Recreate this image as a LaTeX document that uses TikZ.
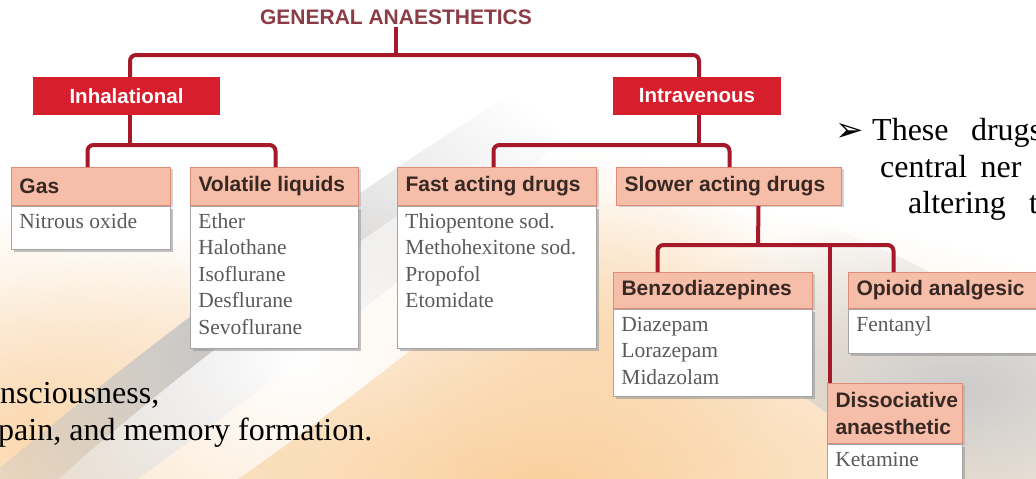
\documentclass[tikz,border=0pt]{standalone}
\usepackage{fontspec}
\setmainfont{Liberation Serif}
\newfontfamily\hdrfam{Liberation Sans}
\newfontfamily\drugfam{Liberation Serif}
\newfontfamily\symfam{DejaVu Sans}
\usetikzlibrary{shadows,fadings,calc}

\definecolor{redfill}{RGB}{215,30,45}
\definecolor{conncol}{RGB}{165,25,40}
\definecolor{hdrfill}{RGB}{246,190,168}
\definecolor{hdrborder}{RGB}{222,140,120}
\definecolor{hdrtext}{RGB}{55,40,35}
\definecolor{bodytext}{RGB}{90,90,90}
\definecolor{bodyborder}{RGB}{165,165,165}
\definecolor{titlecol}{RGB}{140,60,68}
\definecolor{peach}{RGB}{250,208,158}

\tikzfading[name=softglow, inner color=transparent!0, outer color=transparent!100]

\newcommand\hfnt{\hdrfam\bfseries\fontsize{21}{27}\selectfont}
\newcommand\bfnt{\drugfam\fontsize{21.5}{26.5}\selectfont}
\newcommand\sfnt{\fontsize{32}{36}\selectfont}

\tikzset{
  conn/.style={draw=conncol, line width=4pt, rounded corners=6pt},
  redbox/.style={fill=redfill, text=white, font=\hdrfam\bfseries\fontsize{20.5}{24}\selectfont,
    minimum height=38pt, inner sep=0pt},
  hdr/.style={draw=hdrborder, fill=hdrfill, line width=1pt, inner xsep=8pt, inner ysep=0pt,
    anchor=north west, font=\hfnt, text=hdrtext,
    drop shadow={shadow xshift=2pt, shadow yshift=-1pt, fill=gray!70, opacity=.5}},
  bodyb/.style={draw=bodyborder, fill=white, line width=.8pt, inner xsep=8pt, inner ysep=6pt,
    anchor=north west, font=\bfnt, text=bodytext,
    drop shadow={shadow xshift=2.5pt, shadow yshift=-2.5pt, fill=gray!80, opacity=.6}},
  slide/.style={font=\sfnt, text=black, inner sep=0pt, anchor=base west},
  glow/.style={path fading=softglow}
}

% #1 name, #2 x, #3 y, #4 width, #5 header height, #6 header text, #7 body height, #8 body text
\newcommand\drugbox[8]{%
  \node[hdr, minimum width=#4pt, minimum height=#5pt] (#1H) at (#2,#3)
    {\parbox{\dimexpr#4pt-16pt\relax}{\raggedright #6}};
  \node[bodyb] (#1B) at (#1H.south west)
    {\parbox[t][\dimexpr#7pt-12pt\relax][t]{\dimexpr#4pt-16pt\relax}{\raggedright\rule{0pt}{16pt}#8}};
}

\begin{document}
\begin{tikzpicture}[x=1pt,y=-1pt]
\useasboundingbox (0,0) rectangle (1036,479);
\clip (0,0) rectangle (1036,479);
\fill[white] (0,0) rectangle (1036,479);

% soft slide background
\fill[peach, glow] (540,480) ellipse [x radius=760, y radius=280];
\fill[peach, glow, fill opacity=.7] (20,430) ellipse [x radius=300, y radius=220];
\fill[peach, glow, fill opacity=.6] (590,330) ellipse [x radius=200, y radius=180];
\fill[gray!45, glow, rotate around={37:(230,350)}]
  (230,350) ellipse [x radius=520, y radius=50];
\fill[white, glow, rotate around={37:(300,360)}]
  (300,360) ellipse [x radius=480, y radius=60];
\fill[gray!40, glow, rotate around={-30:(960,390)}]
  (960,390) ellipse [x radius=360, y radius=90];

% title and top level
\node[font=\hdrfam\bfseries\fontsize{21}{24}\selectfont, text=titlecol, inner sep=2pt] (title) at (396,17) {GENERAL ANAESTHETICS};
\node[redbox, minimum width=187pt] (inh) at (126.5,96) {Inhalational};
\node[redbox, minimum width=168pt] (intra) at (697,96) {Intravenous};

\coordinate (j0) at (396,55);
\coordinate (j1) at (130,145);
\coordinate (j2) at (699,145);
\coordinate (j3) at (758,245);

% upper connectors
\draw[conn] (title.south) -- (j0);
\draw[conn] ([xshift=3.5pt]inh.north) |- (j0) -| ([xshift=2pt]intra.north);
\draw[conn] ([xshift=3.5pt]inh.south) -- (j1);
\draw[conn] ([xshift=2pt]intra.south) -- (j2);

% boxes
\drugbox{gas}{11}{167}{159}{38}{Gas}{43}{Nitrous oxide}
\drugbox{vol}{190}{167}{168}{38}{Volatile liquids}{142}{Ether\\Halothane\\Isoflurane\\Desflurane\\Sevoflurane}
\drugbox{fast}{397}{167}{199}{38}{Fast acting drugs}{142}{Thiopentone sod.\\Methohexitone sod.\\Propofol\\Etomidate}
\node[hdr, minimum width=225pt, minimum height=38pt] (slowH) at (616,167)
  {\parbox{209pt}{\raggedright Slower acting drugs}};
\drugbox{benz}{613}{272}{199}{36}{Benzodiazepines}{87}{Diazepam\\Lorazepam\\Midazolam}
\drugbox{opi}{848}{272}{200}{36}{Opioid analgesic}{44}{Fentanyl}
\drugbox{dis}{827}{383}{135}{60}{Dissociative\\anaesthetic}{36}{Ketamine}

% lower connectors
\coordinate (dtop) at ([xshift=3pt]disH.north west);
\draw[conn] ([xshift=-3.5pt]fastH.north) |- (j2) -| ([xshift=0.5pt]slowH.north);
\draw[conn] ([xshift=-3.5pt]gasH.north) |- (j1) -| ([xshift=1pt]volH.north);
\draw[conn] ([xshift=29.5pt]slowH.south) -- (j3);
\draw[conn] ([xshift=-55.5pt]benzH.north) |- (j3) -| ([xshift=-55pt]opiH.north);
\draw[conn] (dtop) -- (dtop |- j3);

% slide text fragments
\node[font=\symfam\fontsize{34}{34}\selectfont, inner sep=0pt, anchor=base west] (bul) at (835,141) {➢};
\node[slide] (t1a) at (872,140) {These};
\node[slide] (t1b) at ([xshift=22pt]t1a.base east) {drugs};
\node[slide] (t2a) at (880,177) {central};
\node[slide] (t2b) at ([xshift=13pt]t2a.base east) {ner};
\node[slide] (t3a) at (908,213) {altering};
\node[slide] (t3b) at (1029,213) {the};
\node[slide] (b1) at (0,403) {nsciousness,};
\node[slide] (b2) at (-2,440) {pain, and memory formation.};
\end{tikzpicture}
\end{document}
